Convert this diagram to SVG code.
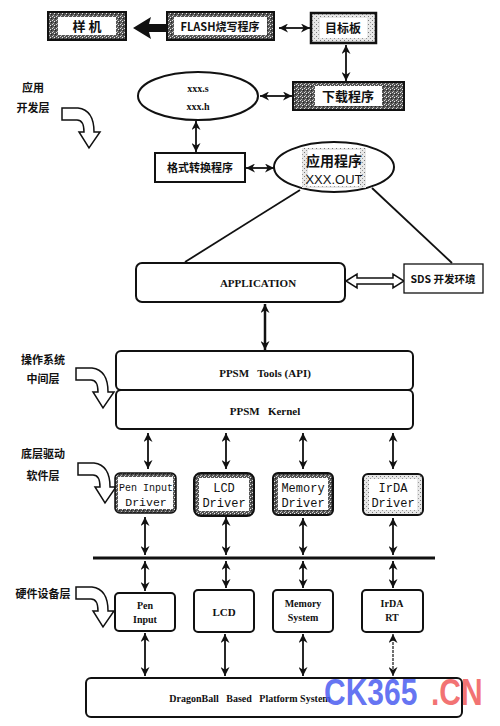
<svg xmlns="http://www.w3.org/2000/svg" width="500" height="726" viewBox="0 0 500 726">
<defs>
<style>
.zh{font-family:"Noto Sans CJK SC","Noto Sans CJK JP",sans-serif;font-weight:700;fill:#111}
.en{font-family:"Liberation Serif","Times New Roman",serif;font-weight:700;fill:#111}
.mono{font-family:"Liberation Mono","Courier New",monospace;fill:#111}
.box{fill:#fff;stroke:#111;stroke-width:2}
.spk{fill:url(#speck);stroke:#111;stroke-width:2}
.inner{fill:#fff}
.conn line{stroke:#111;stroke-width:1.8;fill:none}
.dbl{marker-start:url(#ah);marker-end:url(#ah)}
.bend{fill:#fff;stroke:#111;stroke-width:1.5}
.wm{font-family:"Liberation Sans",Arial,sans-serif;font-weight:700;font-size:30px;fill-opacity:0.85}
</style>
<pattern id="speck" width="4" height="4" patternUnits="userSpaceOnUse">
<rect width="4" height="4" fill="#555"/>
<rect x="0" y="0" width="1" height="1" fill="#ddd"/>
<rect x="2" y="1" width="1" height="1" fill="#eee"/>
<rect x="1" y="3" width="1" height="1" fill="#bbb"/>
<rect x="3" y="2" width="1" height="1" fill="#222"/>
</pattern>
<pattern id="light" width="4" height="4" patternUnits="userSpaceOnUse">
<rect width="4" height="4" fill="#e8e8e8"/>
<rect x="0" y="0" width="1" height="1" fill="#777"/>
<rect x="2" y="2" width="1" height="1" fill="#999"/>
</pattern>
<marker id="ah" viewBox="0 0 10 10" refX="10" refY="5" markerWidth="9" markerHeight="9" markerUnits="userSpaceOnUse" orient="auto-start-reverse">
<path d="M0,0 L10,5 L0,10 L3,5 Z" fill="#111"/>
</marker>
<path id="bendarrow" d="M0,0 L16,0 Q32,2 32,24 L38,24 L27,40 L17,24 L22,24 Q22,12 15,12 L0,12 Z"/>
</defs>
<rect width="500" height="726" fill="#fff"/>

<g id="layer-labels">
<text class="zh" x="33" y="92" font-size="11" text-anchor="middle">应用</text>
<text class="zh" x="33" y="112" font-size="11" text-anchor="middle">开发层</text>
<use href="#bendarrow" class="bend" x="62" y="108"/>
<text class="zh" x="43" y="364" font-size="11" text-anchor="middle">操作系统</text>
<text class="zh" x="43" y="383" font-size="11" text-anchor="middle">中间层</text>
<use href="#bendarrow" class="bend" x="76" y="368"/>
<text class="zh" x="43" y="458" font-size="11" text-anchor="middle">底层驱动</text>
<text class="zh" x="43" y="480" font-size="11" text-anchor="middle">软件层</text>
<use href="#bendarrow" class="bend" x="78" y="463"/>
<text class="zh" x="43" y="598" font-size="11" text-anchor="middle">硬件设备层</text>
<use href="#bendarrow" class="bend" x="76" y="587"/>
</g>

<g id="connectors" class="conn">
<polygon points="133,28 151,17 149,24 168,24 168,32 149,32 151,39" fill="#111"/>
<line class="dbl" x1="279" y1="28" x2="310" y2="28"/>
<line class="dbl" x1="346" y1="45" x2="346" y2="81"/>
<line class="dbl" x1="260" y1="96" x2="292" y2="96"/>
<line class="dbl" x1="196" y1="121" x2="196" y2="152"/>
<line class="dbl" x1="246" y1="168" x2="274" y2="168"/>
<line x1="300" y1="190" x2="185" y2="262"/>
<line x1="372" y1="188" x2="452" y2="263"/>
<polygon points="346,281 357,274 357,278 393,278 393,274 404,281 393,288 393,284 357,284 357,288" fill="#fff" stroke="#111" stroke-width="1.5"/>
<line class="dbl" x1="265" y1="304" x2="265" y2="350" style="stroke-width:2.5"/>
<line class="dbl" x1="148" y1="433" x2="148" y2="469"/>
<line class="dbl" x1="226" y1="433" x2="226" y2="469"/>
<line class="dbl" x1="303" y1="433" x2="303" y2="469"/>
<line class="dbl" x1="393" y1="433" x2="393" y2="469"/>
<line class="dbl" x1="145" y1="517" x2="145" y2="555"/>
<line class="dbl" x1="226" y1="517" x2="226" y2="555"/>
<line class="dbl" x1="303" y1="518" x2="303" y2="555"/>
<line class="dbl" x1="393" y1="518" x2="393" y2="555"/>
<line x1="93" y1="558" x2="435" y2="558" style="stroke-width:3"/>
<line class="dbl" x1="145" y1="561" x2="145" y2="591"/>
<line class="dbl" x1="226" y1="561" x2="226" y2="588"/>
<line class="dbl" x1="303" y1="561" x2="303" y2="588"/>
<line class="dbl" x1="393" y1="561" x2="393" y2="588"/>
<line class="dbl" x1="145" y1="633" x2="145" y2="676"/>
<line class="dbl" x1="225" y1="634" x2="225" y2="676"/>
<line class="dbl" x1="303" y1="634" x2="303" y2="676"/>
<line class="dbl" x1="393" y1="634" x2="393" y2="676" style="stroke-width:1.2;stroke-dasharray:3 1"/>
</g>

<g id="yangji">
<rect class="spk" x="48" y="12" width="78" height="28"/>
<rect class="inner" x="58" y="17" width="58" height="18" fill="#f2f2f2"/>
<text class="zh" x="87" y="31" font-size="13" text-anchor="middle">样  机</text>
</g>
<g id="flash">
<rect class="spk" x="167" y="12" width="107" height="28"/>
<rect class="inner" x="174" y="17" width="93" height="18"/>
<text class="zh" x="220" y="31" font-size="11" text-anchor="middle">FLASH烧写程序</text>
</g>
<g id="mubiaoban">
<rect x="311" y="13" width="65" height="30" fill="url(#light)" stroke="#111" stroke-width="2.5"/>
<rect class="inner" x="320" y="18" width="47" height="20"/>
<text class="zh" x="343" y="33" font-size="12" text-anchor="middle">目标板</text>
</g>
<g id="xiazai">
<rect class="spk" x="293" y="82" width="111" height="28"/>
<rect class="inner" x="315" y="86" width="67" height="20"/>
<text class="zh" x="348" y="101" font-size="13" font-weight="400" text-anchor="middle">下载程序</text>
</g>
<g id="src-ellipse">
<ellipse cx="198" cy="96" rx="60" ry="24" fill="#fff" stroke="#111" stroke-width="2"/>
<text class="en" x="198" y="92" font-size="10" text-anchor="middle">xxx.s</text>
<text class="en" x="198" y="110" font-size="10" text-anchor="middle">xxx.h</text>
</g>
<g id="geshi">
<rect class="box" x="155" y="153" width="90" height="29"/>
<text class="zh" x="200" y="172" font-size="11" text-anchor="middle">格式转换程序</text>
</g>
<g id="out-ellipse">
<ellipse cx="334" cy="167" rx="60" ry="25" fill="#fff" stroke="#111" stroke-width="2"/>
<rect x="302" y="148" width="64" height="40" fill="url(#light)"/>
<rect x="308" y="150" width="52" height="36" fill="#fff"/>
<text class="zh" x="334" y="166" font-size="14" font-weight="400" text-anchor="middle">应用程序</text>
<text x="334" y="184" font-size="13" text-anchor="middle" font-family="Liberation Sans Narrow,Liberation Sans,sans-serif" fill="#111">XXX.OUT</text>
</g>
<g id="application">
<rect class="box" x="136" y="263" width="209" height="39" rx="6"/>
<text class="en" x="258" y="287" font-size="11" text-anchor="middle">APPLICATION</text>
</g>
<g id="sds">
<rect x="404" y="264" width="79" height="29" fill="#fff" stroke="#111" stroke-width="1.3"/>
<text class="zh" x="443" y="283" font-size="10.5" text-anchor="middle">SDS 开发环境</text>
</g>
<g id="ppsm-tools">
<rect class="box" x="116" y="351" width="297" height="39" rx="5"/>
<text class="en" x="265" y="377" font-size="11" text-anchor="middle" xml:space="preserve">PPSM   Tools (API)</text>
</g>
<g id="ppsm-kernel">
<rect class="box" x="116" y="390" width="297" height="39" rx="5"/>
<text class="en" x="265" y="415" font-size="11" text-anchor="middle" xml:space="preserve">PPSM   Kernel</text>
</g>
<g id="pen-driver">
<rect x="115" y="473" width="61" height="40" rx="5" fill="url(#speck)" stroke="#111" stroke-width="1.5"/>
<rect x="118" y="477" width="55" height="32" fill="#fff"/>
<text class="mono" x="146" y="491" font-size="11" text-anchor="middle" textLength="54" lengthAdjust="spacingAndGlyphs">Pen Input</text>
<text class="mono" x="146" y="506" font-size="11.5" text-anchor="middle">Driver</text>
</g>
<g id="lcd-driver">
<rect x="194" y="473" width="60" height="43" rx="7" fill="url(#speck)" stroke="#111" stroke-width="2"/>
<rect x="199" y="478" width="50" height="33" fill="#fff"/>
<text class="mono" x="224" y="492" font-size="12" text-anchor="middle">LCD</text>
<text class="mono" x="224" y="507" font-size="12" text-anchor="middle">Driver</text>
</g>
<g id="memory-driver">
<rect x="273" y="473" width="60" height="42" rx="5" fill="url(#speck)" stroke="#111" stroke-width="2"/>
<rect x="278" y="478" width="50" height="32" fill="#fff"/>
<text class="mono" x="303" y="492" font-size="12" text-anchor="middle">Memory</text>
<text class="mono" x="303" y="507" font-size="12" text-anchor="middle">Driver</text>
</g>
<g id="irda-driver">
<rect x="363" y="474" width="60" height="41" rx="5" fill="url(#light)" stroke="#111" stroke-width="2"/>
<rect x="369" y="479" width="48" height="31" fill="#fff"/>
<text class="mono" x="393" y="492" font-size="12" text-anchor="middle">IrDA</text>
<text class="mono" x="393" y="507" font-size="12" text-anchor="middle">Driver</text>
</g>
<g id="pen-input">
<rect class="box" x="115" y="593" width="60" height="38" rx="4"/>
<text class="en" x="145" y="609" font-size="10" text-anchor="middle">Pen</text>
<text class="en" x="145" y="623" font-size="10" text-anchor="middle">Input</text>
</g>
<g id="lcd">
<rect class="box" x="194" y="590" width="60" height="42" rx="4"/>
<text class="en" x="224" y="616" font-size="11" text-anchor="middle">LCD</text>
</g>
<g id="memory-system">
<rect class="box" x="273" y="590" width="60" height="42" rx="4"/>
<text class="en" x="303" y="607" font-size="10" text-anchor="middle">Memory</text>
<text class="en" x="303" y="621" font-size="10" text-anchor="middle">System</text>
</g>
<g id="irda-rt">
<rect class="box" x="362" y="590" width="61" height="42" rx="4"/>
<text class="en" x="392" y="607" font-size="10" text-anchor="middle">IrDA</text>
<text class="en" x="392" y="621" font-size="10" text-anchor="middle">RT</text>
</g>
<g id="dragonball">
<rect class="box" x="86" y="678" width="376" height="39" rx="5"/>
<text class="en" x="250" y="702" font-size="10" text-anchor="middle" xml:space="preserve">DragonBall   Based   Platform System</text>
</g>
<g id="watermark">
<text class="wm" fill="#4a5cf0" transform="translate(324,705) scale(1,1.25)">CK365</text>
<text class="wm" fill="#f05a5a" transform="translate(431,705) scale(1,1.25)">.CN</text>
</g>
</svg>
